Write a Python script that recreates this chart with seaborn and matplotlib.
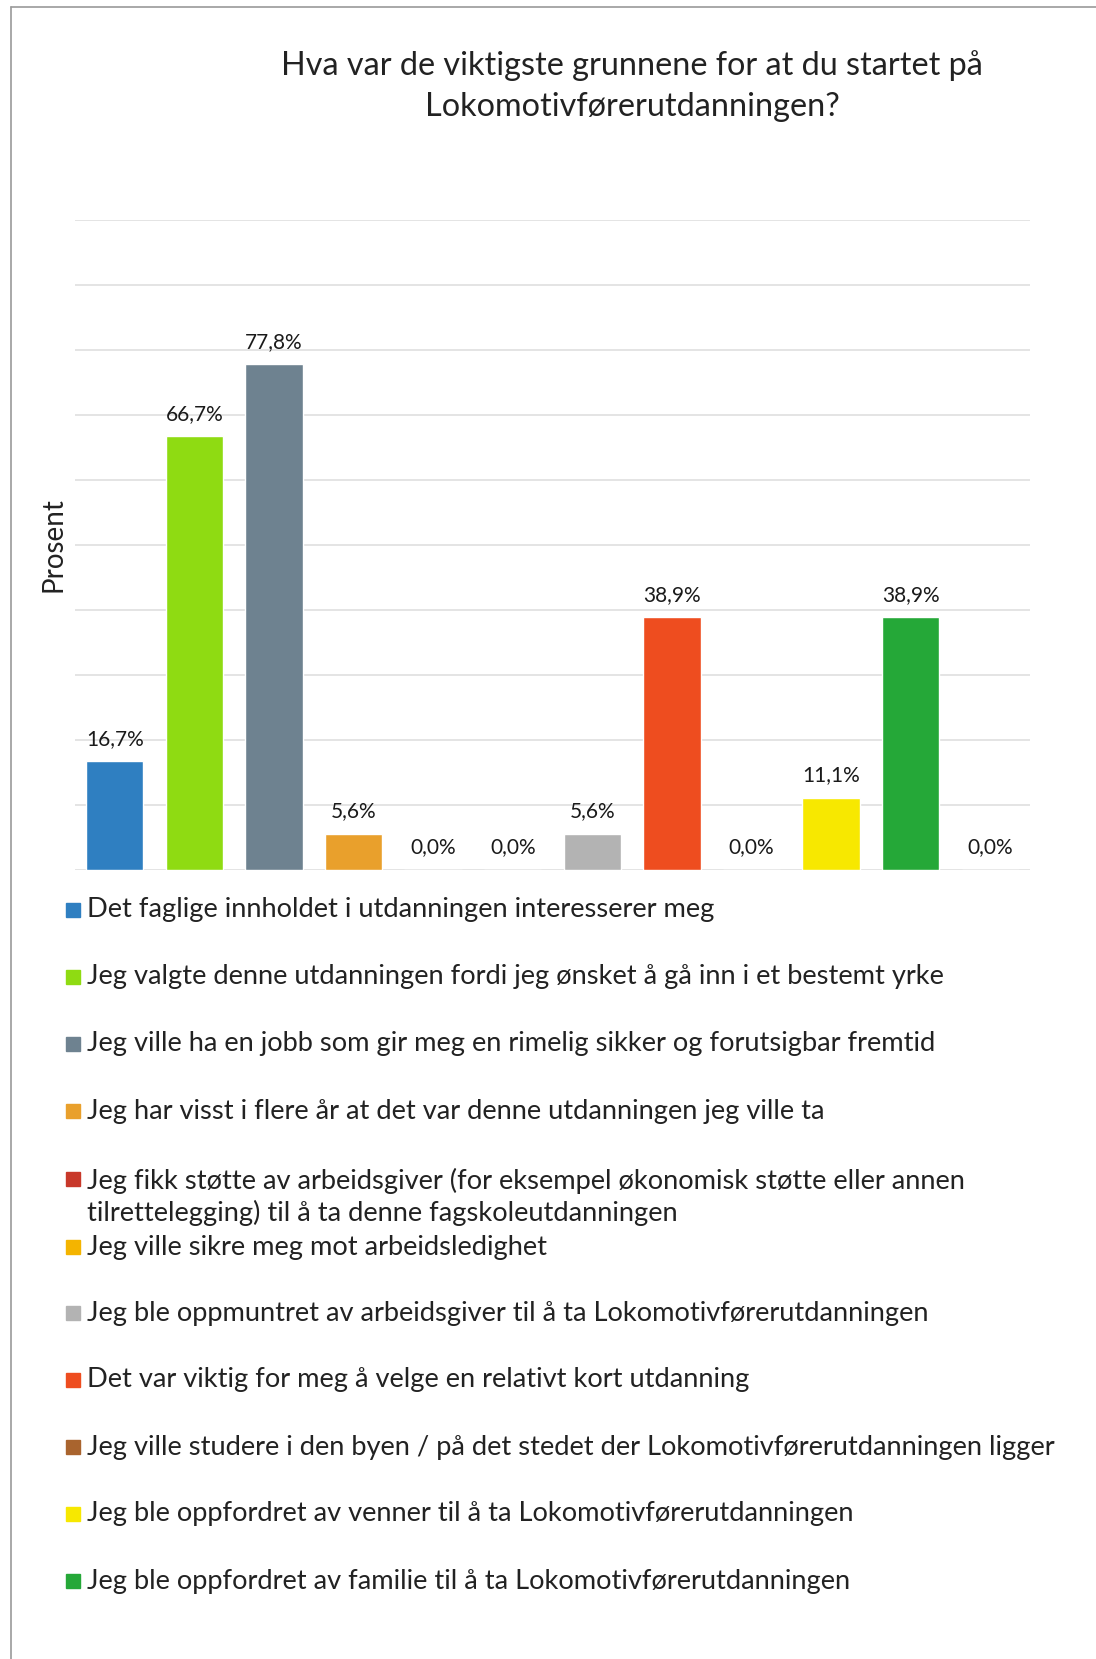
import matplotlib.pyplot as plt
import matplotlib.patches as mpatches
import matplotlib.lines as mlines
import pandas as pd
import seaborn as sns

# Chart data
reasons = [
    'Det faglige innholdet i utdanningen interesserer meg',
    'Jeg valgte denne utdanningen fordi jeg ønsket å gå inn i et bestemt yrke',
    'Jeg ville ha en jobb som gir meg en rimelig sikker og forutsigbar fremtid',
    'Jeg har visst i flere år at det var denne utdanningen jeg ville ta',
    'Jeg fikk støtte av arbeidsgiver (for eksempel økonomisk støtte eller annen\ntilrettelegging) til å ta denne fagskoleutdanningen',
    'Jeg ville sikre meg mot arbeidsledighet',
    'Jeg ble oppmuntret av arbeidsgiver til å ta Lokomotivførerutdanningen',
    'Det var viktig for meg å velge en relativt kort utdanning',
    'Jeg ville studere i den byen / på det stedet der Lokomotivførerutdanningen ligger',
    'Jeg ble oppfordret av venner til å ta Lokomotivførerutdanningen',
    'Jeg ble oppfordret av familie til å ta Lokomotivførerutdanningen',
    'Annet',
]
percent = [16.7, 66.7, 77.8, 5.6, 0.0, 0.0, 5.6, 38.9, 0.0, 11.1, 38.9, 0.0]
colors = ['#2F7FC1', '#8FDB12', '#6E8290', '#E9A02C', '#C8382A', '#F4B400',
          '#B3B3B3', '#EE4D1F', '#A9642E', '#F7E800', '#25A838', '#CCCCCC']
legend_count = 11

title = 'Hva var de viktigste grunnene for at du startet på\nLokomotivførerutdanningen?'

sns.set_style('white')
plt.rcParams['font.family'] = ['Lato', 'DejaVu Sans']

df = pd.DataFrame({'reason': reasons, 'percent': percent})

fig = plt.figure(figsize=(10.96, 16.59), dpi=100)
ax = fig.add_axes([75 / 1096, 1 - 870 / 1659, 955 / 1096, 650 / 1659])

sns.barplot(data=df, x='reason', y='percent', hue='reason', order=reasons,
            hue_order=reasons, palette=colors, legend=False, width=0.72,
            saturation=1, ax=ax)

ax.set_ylim(0, 100)
ax.set_yticks(range(0, 101, 10))
ax.yaxis.grid(True, color='#DCDCDC', linewidth=1.1)
ax.set_axisbelow(True)
ax.tick_params(left=False, bottom=False, labelleft=False, labelbottom=False)
for s in ax.spines.values():
    s.set_visible(False)
ax.set_xlabel('')
ax.set_ylabel('Prosent', fontsize=20, color='#222222', labelpad=6)

# value labels above bars
for cont, v in zip(ax.containers, percent):
    lab = f'{v:.1f}%'.replace('.', ',')
    ax.bar_label(cont, labels=[lab], padding=9, fontsize=15, color='#1A1A1A')

fig.text(632 / 1096, 1 - 86 / 1659, title, ha='center', va='center',
         fontsize=23.3, color='#222222', linespacing=1.45)

# legend drawn as rows below the plot
legend_y = [910, 977, 1044, 1111, 1197, 1247, 1313, 1380, 1447, 1514, 1581]
for name, col, y in zip(reasons[:legend_count], colors[:legend_count], legend_y):
    fy = 1 - y / 1659
    n_lines = name.count('\n') + 1
    top_line = fy + (n_lines - 1) * 18 / 1659
    fig.patches.append(mpatches.Rectangle((66 / 1096, top_line - 7 / 1659), 14 / 1096, 14 / 1659,
                                          transform=fig.transFigure, color=col, zorder=3))
    fig.text(87 / 1096, fy, name, ha='left', va='center', fontsize=19.6,
             color='#222222', linespacing=1.28)

# scanned frame border
fig.add_artist(mlines.Line2D([11 / 1096, 11 / 1096], [0, 1 - 7 / 1659],
                             transform=fig.transFigure, color='#9A9A9A', lw=1.2))
fig.add_artist(mlines.Line2D([11 / 1096, 1], [1 - 7 / 1659, 1 - 7 / 1659],
                             transform=fig.transFigure, color='#9A9A9A', lw=1.2))

fig.savefig('out.png', dpi=100, facecolor='white')
plt.close(fig)
